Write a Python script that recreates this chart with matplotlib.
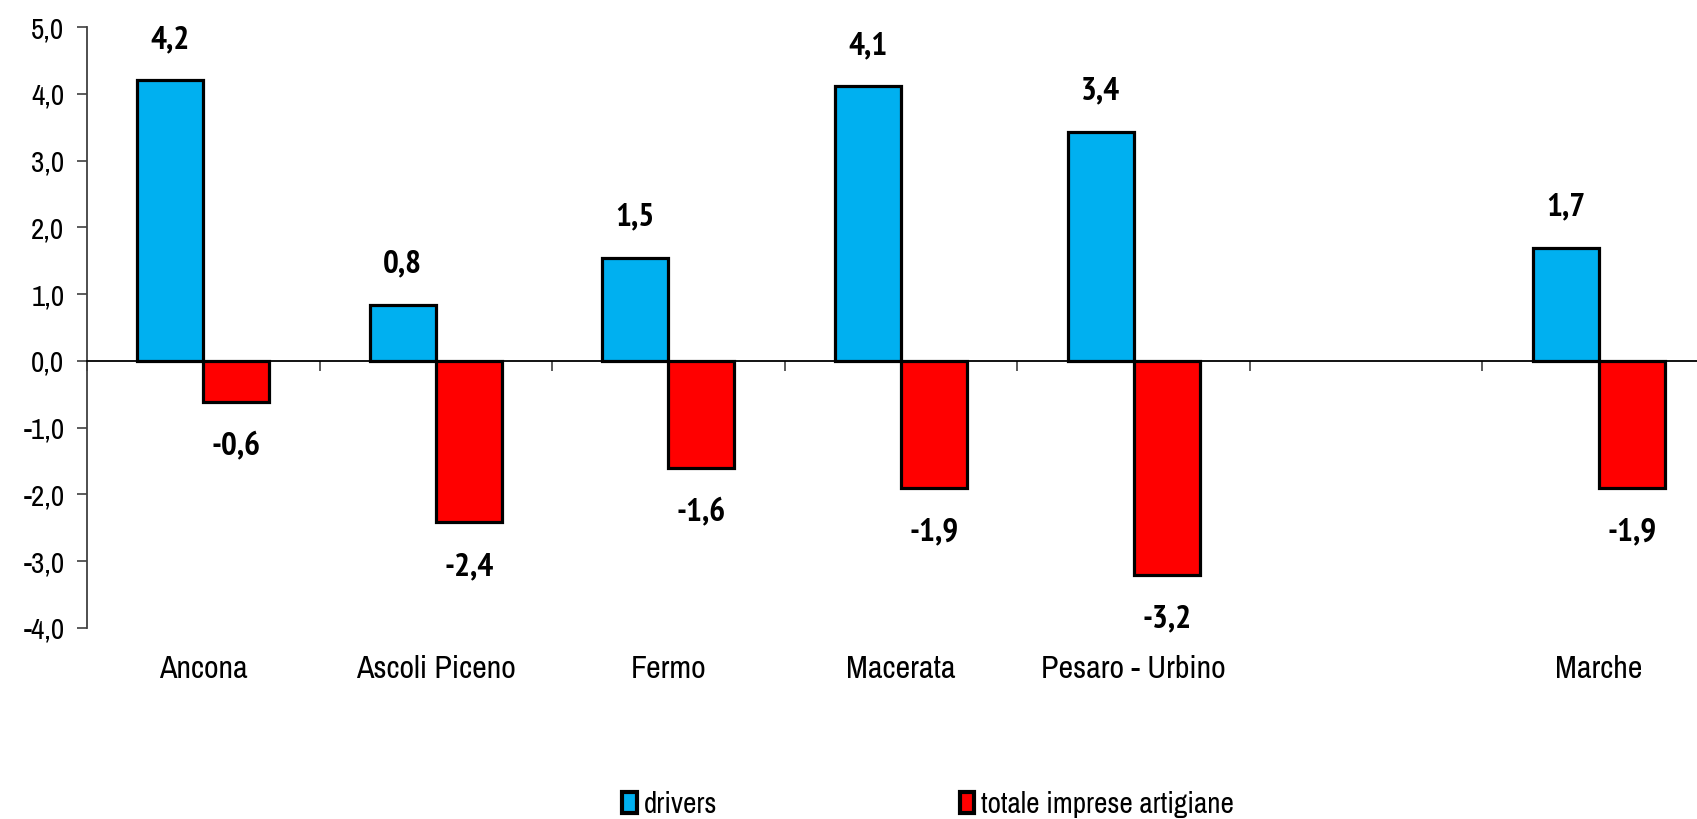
import numpy as np
import matplotlib
matplotlib.use("Agg")
import matplotlib.pyplot as plt
from matplotlib.patches import Patch
from matplotlib.ticker import FuncFormatter
import matplotlib.transforms as mtransforms

# data
categories = ["Ancona", "Ascoli Piceno", "Fermo", "Macerata", "Pesaro - Urbino", "", "Marche"]
drivers = [4.20, 0.84, 1.54, 4.11, 3.43, np.nan, 1.69]
totale = [-0.61, -2.42, -1.61, -1.90, -3.20, np.nan, -1.90]
series_names = ["drivers", "totale imprese artigiane"]

BLUE = "#00B0F0"
RED = "#FF0000"

plt.rcParams['font.family'] = ['Arial Narrow', 'Liberation Sans Narrow', 'Archivo Narrow',
                               'PT Sans Narrow', 'Roboto Condensed', 'Fira Sans Condensed',
                               'DejaVu Sans']
# static fonts with a real bold face for the data labels
BOLD_FAMILY = ['PT Sans Narrow', 'Roboto Condensed', 'Fira Sans Condensed',
               'Liberation Sans', 'DejaVu Sans']

fig = plt.figure(figsize=(16.97, 8.19), dpi=100)
ax = fig.add_axes([87 / 1697, 1 - 628 / 819, 1628 / 1697, 601 / 819])

x = np.arange(len(categories))
w = 0.284
ax.bar(x - w / 2, drivers, w, color=BLUE, edgecolor="black", linewidth=2.3, zorder=2)
ax.bar(x + w / 2, totale, w, color=RED, edgecolor="black", linewidth=2.3, zorder=2)

def fmt(v):
    return f"{v:.1f}".replace(".", ",")

# data labels
for xi, v in zip(x - w / 2, drivers):
    if np.isnan(v):
        continue
    ax.annotate(fmt(v), (xi, v), xytext=(0, 29), textcoords="offset points",
                ha="center", va="center", fontsize=24, fontweight="bold", family=BOLD_FAMILY)
for xi, v in zip(x + w / 2, totale):
    if np.isnan(v):
        continue
    ax.annotate(fmt(v), (xi, v), xytext=(0, -32), textcoords="offset points",
                ha="center", va="center", fontsize=24, fontweight="bold", family=BOLD_FAMILY)

ax.set_xlim(-0.5, len(categories) - 0.5)
ax.set_ylim(-4, 5)
ax.set_yticks(np.arange(-4, 5.1, 1))
ax.yaxis.set_major_formatter(FuncFormatter(lambda v, p: fmt(v)))
ax.tick_params(axis="y", length=7.2, width=1.2, pad=9, labelsize=21, color="#404040")

# category boundaries as tick marks on the zero line
ax.spines["bottom"].set_position(("data", 0))
ax.spines["bottom"].set_linewidth(1.3)
ax.spines["left"].set_linewidth(1.3)
ax.spines["left"].set_color("#404040")
ax.spines["top"].set_visible(False)
ax.spines["right"].set_visible(False)
ax.set_xticks(np.arange(len(categories) + 1) - 0.5)
ax.set_xticklabels([])
ax.tick_params(axis="x", length=7.2, width=1.2, direction="out", color="#404040")

# category names below the plot area
trans = mtransforms.blended_transform_factory(ax.transData, ax.transAxes)
for xi, name in zip(x, categories):
    ax.text(xi, -0.068, name, transform=trans, ha="center", va="center", fontsize=23)

handles = [Patch(facecolor=BLUE, edgecolor="black", linewidth=3),
           Patch(facecolor=RED, edgecolor="black", linewidth=3)]
fig.legend(handles, series_names, loc="center", bbox_to_anchor=(0.547, 0.018), ncol=2,
           frameon=False, fontsize=21, handlelength=0.5, handleheight=0.75,
           handletextpad=0.25, columnspacing=8.3)

fig.savefig("out.png", dpi=100)
